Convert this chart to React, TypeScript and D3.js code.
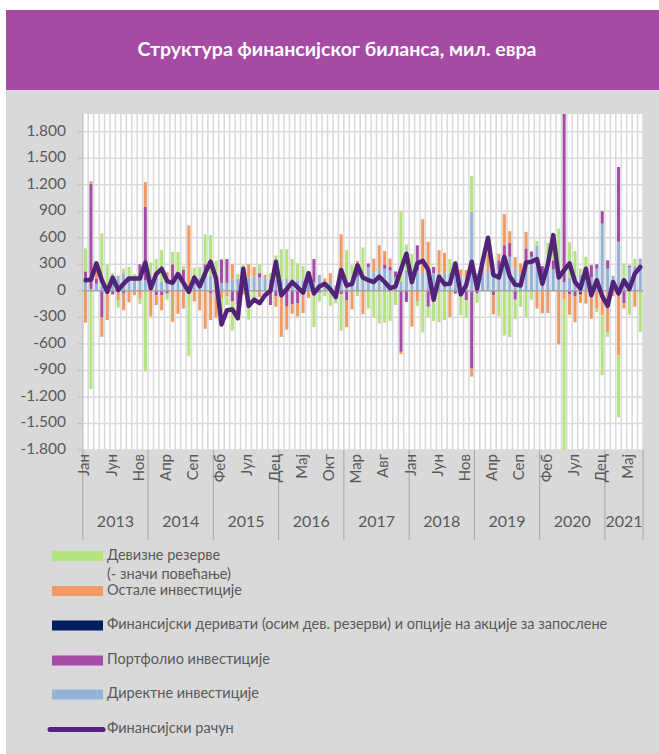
import React from "react";
import * as d3 from "d3";

const monthNames = ["Јан", "Феб", "Мар", "Апр", "Мај", "Јун", "Јул", "Авг", "Сеп", "Окт", "Нов", "Дец"];
const years = ["2013", "2014", "2015", "2016", "2017", "2018", "2019", "2020", "2021"];
const monthsInLastYear = 7;
const yTicks = [-1800, -1500, -1200, -900, -600, -300, 0, 300, 600, 900, 1200, 1500, 1800];

// Директне инвестиције
const direct = [100, 20, 80, 60, 40, 130, 170, 200, 170, 150, 130, 120,
  100, 150, 100, 100, 100, 120, 100, 60, 100, 150, 150, 170,
  80, 90, 90, 130, 140, 150, 150, 160, 150, 150, 130, 130,
  120, 140, 130, 120, 120, 170, 100, 180, 80, 100, 60, 180,
  120, 110, 160, 140, 270, 210, 250, 250, 230, 150, 100, 240,
  200, 230, 200, 200, 200, 200, 200, 200, 230, 160, 150, 893,
  200, 200, 235, 220, 240, 385, 385, 250, 200, 300, 385, 515,
  200, 300, 240, 130, 100, 150, 170, 180, 200, 150, 250, 760,
  250, 170, 555, 150, 270, 280, 365];
// Портфолио инвестиције
const portfolio = [120, 1190, 60, -300, -20, -40, -20, -30, 0, 0, 170, 830,
  0, -50, -50, -30, 200, 0, 140, 0, 0, 0, 150, -30,
  0, 265, 270, -120, -150, 0, 0, 0, 50, 0, -160, -60,
  -40, -180, -150, -140, 0, 0, 260, -20, 0, 0, -20, -40,
  -110, 0, 60, 0, 40, 0, 0, 50, 40, 70, -690, -125,
  0, 285, 0, -180, 70, 0, 0, 0, -30, 0, -105, -880,
  -30, 0, 0, -50, 105, 130, 155, -100, 0, 180, 60, 0,
  80, 0, 105, 0, 2100, -40, -60, -20, 0, 140, 50, 140,
  95, 0, 845, -140, 15, 0, 0];
// Финансијски деривати
const derivatives = [0, 0, 0, 0, 0, 0, 0, 0, 0, 0, 0, 0,
  0, 0, 0, 0, 0, 0, 0, 0, 0, 0, 0, 0,
  0, 0, 0, 0, 0, 0, 0, 0, 0, 0, 0, 0,
  0, 0, 0, 0, 0, 0, 0, 0, 0, 0, 0, 0,
  0, 0, 0, 0, 0, 0, 0, 0, 0, 0, 0, 0,
  0, 0, 0, 0, 0, 0, 0, 0, 0, 0, 0, 0,
  0, 0, 0, 0, 0, 0, 0, 0, 0, 0, 0, 0,
  0, 0, 0, 0, 0, 0, 0, -15, 0, 0, 0, 0,
  0, 0, 0, 0, 0, 0, 0];
// Остале инвестиције
const other = [-360, 30, 120, -220, -310, 0, -90, -190, -130, -50, -90, 280,
  -290, -110, -170, 110, -350, -260, -200, 680, -120, -220, -430, -300,
  -300, -80, -60, 170, -100, -40, 150, 110, -70, 30, 0, -120,
  -480, -260, -110, -150, -250, -80, -40, 0, 60, 100, 0, 460,
  -300, -210, 120, -265, 0, 155, 265, 150, 95, -20, -25, 0,
  -405, -115, 610, 355, 0, 260, 230, -295, 0, 80, 85, -90,
  0, 80, 185, -215, 75, 355, 135, 130, 110, 185, 0, -200,
  -255, -250, 0, -605, -100, -230, -295, -100, -145, -315, -200, -275,
  -465, -60, -730, -60, 0, -180, 0];
// Девизне резерве
const reserves = [260, -1110, 50, 590, 260, 70, -80, 50, 100, 40, -60, -910,
  220, 210, 360, -70, 140, 320, 40, -740, 160, 120, 340, 460,
  260, -150, -100, -330, 50, 140, -325, -90, 100, -20, 70, 270,
  350, 330, 230, 190, 160, 40, -370, -100, -60, -170, -120, -410,
  340, 180, -60, 350, -200, -300, -370, -360, -340, -140, 800, 285,
  220, -60, -470, -120, -340, -355, -330, 160, 100, -275, -200, 404,
  -105, 50, 150, 0, -285, -505, -525, -220, -180, -295, -100, 50,
  0, 240, 310, 575, -1950, 400, 280, 70, 185, 0, -40, -680,
  -55, 0, -700, 160, -270, 80, -464];
// Финансијски рачун
const finAccount = [120, 125, 310, 120, -10, 150, 10, 80, 140, 140, 140, 320,
  30, 190, 250, 110, 90, 190, 90, -10, 150, 50, 200, 330,
  140, -380, -220, -210, -310, 250, -170, -100, -140, -50, 0, 330,
  -50, 20, 100, 40, -20, 200, -30, 50, 80, 20, -70, 235,
  60, 80, 290, 150, 120, 100, 160, 100, 30, 50, 240, 420,
  100, 310, 340, 240, -100, 160, 75, 80, 310, -40, 65, 330,
  25, 330, 600, 180, 150, 385, 165, 70, 60, 320, 330, 360,
  80, 300, 630, 150, 235, 310, 100, 25, 250, -50, 120, -60,
  -170, 100, -30, 120, 20, 195, 270];

const categories: string[] = [];
years.forEach((yr, yi) => {
  const n = yi === years.length - 1 ? monthsInLastYear : 12;
  for (let m = 0; m < n; m++) categories.push(`${monthNames[m]} ${yr}`);
});

const seriesKeys = ["direct", "portfolio", "derivatives", "other", "reserves"];
const colors: Record<string, string> = {
  direct: "#95B3D7",
  portfolio: "#A64CA6",
  derivatives: "#002060",
  other: "#F29A61",
  reserves: "#B4E47E",
};
const lineColor = "#522479";

const locale = d3.formatLocale({ decimal: ",", thousands: ".", grouping: [3], currency: ["", ""], minus: "-" });
const fmt = locale.format(",d");

const FONT = "Lato, 'Open Sans', sans-serif";
const TXT = "#595959";

export default function App() {
  const W = 659, H = 754;
  const left = 82.8, right = 643, top = 114, bottom = 450;

  const x = d3.scaleBand<string>().domain(categories).range([left, right]).padding(0);
  const y = d3.scaleLinear().domain([-1800, 2000]).range([bottom, top]);
  const bw = x.bandwidth();
  const barW = bw * 0.56;

  const rows = categories.map((c, i) => ({
    cat: c,
    direct: direct[i],
    portfolio: portfolio[i],
    derivatives: derivatives[i],
    other: other[i],
    reserves: reserves[i],
  }));
  const stacked = d3.stack<any>().keys(seriesKeys).offset(d3.stackOffsetDiverging)(rows);

  const line = d3.line<number>()
    .x((_, i) => (x(categories[i]) as number) + bw / 2)
    .y((d) => y(d));

  const yearStarts: { yr: string; x0: number; x1: number }[] = [];
  years.forEach((yr) => {
    const cats = categories.filter((c) => c.endsWith(yr));
    const x0 = x(cats[0]) as number;
    const x1 = (x(cats[cats.length - 1]) as number) + bw;
    yearStarts.push({ yr, x0, x1 });
  });

  const legendItems = [
    { label: "Девизне резерве", key: "reserves", y: 556 },
    { label: "Остале инвестиције", key: "other", y: 591 },
    { label: "Финансијски деривати (осим дев. резерви) и опције на акције за запослене", key: "derivatives", y: 625.5 },
    { label: "Портфолио инвестиције", key: "portfolio", y: 660.5 },
    { label: "Директне инвестиције", key: "direct", y: 694.5 },
  ];

  return (
    <svg width={W} height={H} style={{ position: "absolute", left: 0, top: 0, background: "#fff" }} fontFamily={FONT}>
      <defs>
        <clipPath id="plotClip">
          <rect x={left} y={top} width={right - left} height={bottom - top} />
        </clipPath>
      </defs>
      <rect x={6} y={10} width={W - 6} height={80} fill="#A54BA3" />
      <text x={337} y={51} textAnchor="middle" dominantBaseline="middle" fill="#fff" fontWeight="bold" fontSize={19.5}>
        Структура финансијског биланса, мил. евра
      </text>
      <rect x={6} y={90} width={W - 6} height={H - 90} fill="#D9D9D9" />

      <rect x={left} y={top} width={right - left} height={bottom - top} fill="#fff" />
      {categories.map((c) => (
        <line key={"vg" + c} x1={x(c) as number} x2={x(c) as number} y1={top} y2={bottom} stroke="#D9D9D9" strokeWidth={1.5} />
      ))}
      <line x1={right} x2={right} y1={top} y2={bottom} stroke="#D9D9D9" strokeWidth={1.5} />
      {yTicks.map((t) => (
        <line key={"hg" + t} x1={left} x2={right} y1={y(t)} y2={y(t)} stroke="#D9D9D9" strokeWidth={1.5} />
      ))}

      <g clipPath="url(#plotClip)">
        {stacked.map((s) => (
          <g key={s.key} fill={colors[s.key]}>
            {s.map((d, i) => {
              const y0 = y(d[0]), y1 = y(d[1]);
              const h = Math.abs(y0 - y1);
              if (h < 0.01) return null;
              return (
                <rect key={i} x={(x(categories[i]) as number) + (bw - barW) / 2} width={barW}
                  y={Math.min(y0, y1)} height={h} />
              );
            })}
          </g>
        ))}
      </g>

      <line x1={left} x2={right} y1={y(0)} y2={y(0)} stroke="#A6A6A6" strokeWidth={1.5} />

      <path d={line(finAccount) || ""} fill="none" stroke={lineColor} strokeWidth={4.5} strokeLinejoin="round" strokeLinecap="round" clipPath="url(#plotClip)" />

      <line x1={left} x2={left} y1={top} y2={bottom} stroke="#BFBFBF" strokeWidth={1} />
      {yTicks.map((t) => (
        <g key={"yt" + t}>
          <line x1={left - 5} x2={left} y1={y(t)} y2={y(t)} stroke="#BFBFBF" />
          <text x={66} y={y(t)} textAnchor="end" dominantBaseline="middle" fill={TXT} fontSize={15.5}>{fmt(t)}</text>
        </g>
      ))}

      {yearStarts.map((ys) => (
        <line key={"yd" + ys.yr} x1={ys.x0} x2={ys.x0} y1={bottom} y2={540} stroke="#A6A6A6" strokeWidth={1} />
      ))}
      <line x1={right} x2={right} y1={bottom} y2={540} stroke="#A6A6A6" strokeWidth={1} />
      {categories.map((c, i) =>
        i % 5 === 0 ? (
          <text key={"ml" + c} transform={`translate(${(x(c) as number) + bw / 2},${bottom + 4}) rotate(-90)`}
            textAnchor="end" dominantBaseline="middle" fill={TXT} fontSize={15}>
            {c.split(" ")[0]}
          </text>
        ) : null
      )}
      {yearStarts.map((ys) => (
        <text key={"yl" + ys.yr} x={(ys.x0 + ys.x1) / 2} y={523} textAnchor="middle" dominantBaseline="middle" fill={TXT} fontSize={16}>
          {ys.yr}
        </text>
      ))}

      {legendItems.map((li) => (
        <g key={li.key}>
          <rect x={52} y={li.y - 5} width={51} height={10} fill={colors[li.key]} />
          <text x={107} y={li.y} dominantBaseline="middle" fill={TXT} fontSize={14.5}>{li.label}</text>
        </g>
      ))}
      <text x={107} y={575} dominantBaseline="middle" fill={TXT} fontSize={14.5}>(- значи повећање)</text>
      <line x1={50} x2={103} y1={729.5} y2={729.5} stroke={lineColor} strokeWidth={5} strokeLinecap="round" />
      <text x={107} y={729.5} dominantBaseline="middle" fill={TXT} fontSize={14.5}>Финансијски рачун</text>
    </svg>
  );
}
